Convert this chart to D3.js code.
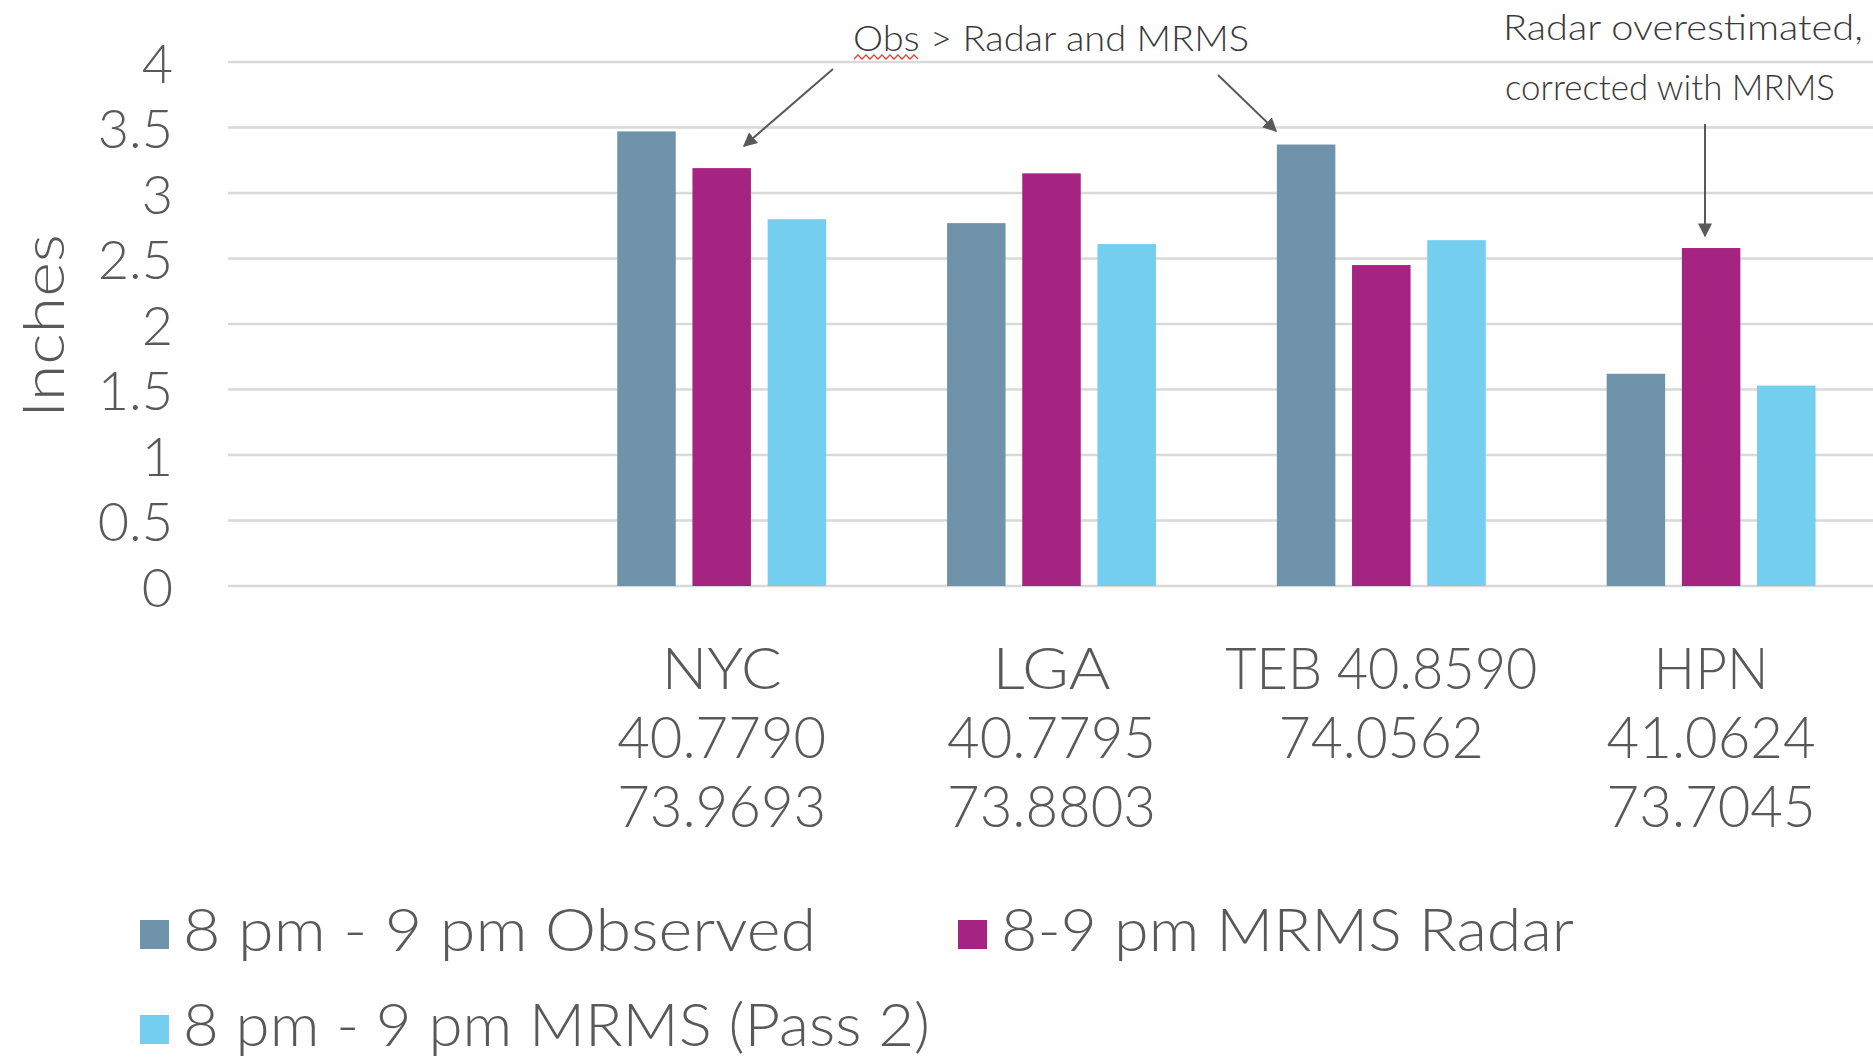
<!DOCTYPE html>
<html>
<head>
<meta charset="utf-8">
<script src="https://cdn.jsdelivr.net/npm/d3@7"></script>
<style>
  html, body { margin: 0; padding: 0; background: #ffffff; }
  svg { display: block; }
  text { font-family: "Lato", "Noto Sans", sans-serif; font-weight: 300; }
</style>
</head>
<body>
<script>
// Hourly rainfall (8-9 pm) at four stations: observed gauge vs. MRMS estimates
const categories = ["", "NYC", "LGA", "TEB", "HPN"];
const categoryLabels = [
  [],
  ["NYC", "40.7790", "73.9693"],
  ["LGA", "40.7795", "73.8803"],
  ["TEB 40.8590", "74.0562"],
  ["HPN", "41.0624", "73.7045"]
];
const seriesNames = ["8 pm - 9 pm Observed", "8-9 pm MRMS Radar", "8 pm - 9 pm MRMS (Pass 2)"];
const observed  = [null, 3.47, 2.77, 3.37, 1.62];
const mrmsRadar = [null, 3.19, 3.15, 2.45, 2.58];
const mrmsPass2 = [null, 2.80, 2.61, 2.64, 1.53];
const yTicks = [0, 0.5, 1, 1.5, 2, 2.5, 3, 3.5, 4];
const yTickLabels = ["0", "0.5", "1", "1.5", "2", "2.5", "3", "3.5", "4"];
const seriesColors = ["#7093ac", "#a52381", "#74cef0"];

const W = 1873, H = 1061;
const svg = d3.select("body").append("svg").attr("width", W).attr("height", H);

const x = d3.scaleBand().domain(categories).range([227, 1876]).paddingInner(0).paddingOuter(0);
const xs = d3.scaleBand().domain(seriesNames).range([0, x.bandwidth()])
  .paddingInner(0.222).paddingOuter(0.804);
const y = d3.scaleLinear().domain([0, 4]).range([586, 62]);

const fit = (sel, w) => sel.attr("textLength", w).attr("lengthAdjust", "spacingAndGlyphs");

// horizontal gridlines
svg.append("g").selectAll("line").data(yTicks).join("line")
  .attr("x1", 228).attr("x2", W)
  .attr("y1", d => y(d)).attr("y2", d => y(d))
  .attr("stroke", "#d9d9d9").attr("stroke-width", 2.5);

// y tick labels
svg.append("g").selectAll("text").data(yTicks).join("text")
  .attr("x", 173).attr("y", d => y(d))
  .attr("text-anchor", "end").attr("dominant-baseline", "central")
  .attr("font-size", 54).attr("fill", "#595959")
  .text((d, i) => yTickLabels[i]);

// y axis title
svg.append("text")
  .attr("transform", "translate(64,326) rotate(-90)")
  .attr("text-anchor", "middle")
  .attr("font-size", 58).attr("fill", "#595959")
  .call(fit, 184)
  .text("Inches");

// bars
const seriesValues = [observed, mrmsRadar, mrmsPass2];
const rows = [];
categories.forEach((c, i) => {
  seriesNames.forEach((s, j) => {
    const v = seriesValues[j][i];
    if (v != null) rows.push({ c, s, v, j });
  });
});
svg.append("g").selectAll("rect").data(rows).join("rect")
  .attr("x", d => x(d.c) + xs(d.s))
  .attr("width", xs.bandwidth())
  .attr("y", d => y(d.v))
  .attr("height", d => y(0) - y(d.v))
  .attr("fill", d => seriesColors[d.j]);

// category labels (station name + coordinates)
const catWidths = {
  "NYC": 120, "LGA": 118, "HPN": 115, "TEB 40.8590": 312, "74.0562": 205
};
const catG = svg.append("g");
categories.forEach((c, i) => {
  categoryLabels[i].forEach((line, k) => {
    const w = catWidths[line] || 209;
    catG.append("text")
      .attr("x", x(c) + x.bandwidth() / 2)
      .attr("y", 689 + k * 69)
      .attr("text-anchor", "middle")
      .attr("font-size", 58).attr("fill", "#595959")
      .call(fit, w)
      .text(line);
  });
});

// legend
const legendItems = [
  { name: seriesNames[0], color: seriesColors[0], sx: 140, tx: 183, base: 951, w: 633 },
  { name: seriesNames[1], color: seriesColors[1], sx: 958, tx: 1001, base: 951, w: 573 },
  { name: seriesNames[2], color: seriesColors[2], sx: 140, tx: 183, base: 1046, w: 747 }
];
const lg = svg.append("g");
legendItems.forEach(d => {
  lg.append("rect").attr("x", d.sx).attr("y", d.base - 31).attr("width", 29).attr("height", 29)
    .attr("fill", d.color);
  lg.append("text").attr("x", d.tx).attr("y", d.base)
    .attr("font-size", 60).attr("fill", "#595959")
    .call(fit, d.w)
    .text(d.name);
});

// annotations
const defs = svg.append("defs");
defs.append("marker").attr("id", "head").attr("viewBox", "0 0 10 10")
  .attr("refX", 9).attr("refY", 5).attr("markerWidth", 7).attr("markerHeight", 7)
  .attr("markerUnits", "strokeWidth").attr("orient", "auto")
  .append("path").attr("d", "M0,0 L10,5 L0,10 Z").attr("fill", "#595959");

const ann = svg.append("g").attr("fill", "#3a3a3a");
ann.append("text").attr("x", 1051).attr("y", 51).attr("text-anchor", "middle")
  .attr("font-size", 36).call(fit, 396).text("Obs > Radar and MRMS");
// spell-check squiggle under "Obs"
const squig = d3.range(0, 17).map(k => [854 + k * 4, 57 + (k % 2 ? -2 : 2)]);
ann.append("path").attr("d", d3.line()(squig)).attr("fill", "none")
  .attr("stroke", "#e0403a").attr("stroke-width", 1.3);

ann.append("text").attr("x", 1683).attr("y", 40).attr("text-anchor", "middle")
  .attr("font-size", 35).call(fit, 360).text("Radar overestimated,");
ann.append("text").attr("x", 1670).attr("y", 100).attr("text-anchor", "middle")
  .attr("font-size", 35).call(fit, 330).text("corrected with MRMS");

const arrows = [
  [[833, 69], [744, 146]],
  [[1218, 75], [1276, 131]],
  [[1705, 124], [1705, 236]]
];
svg.append("g").selectAll("line").data(arrows).join("line")
  .attr("x1", d => d[0][0]).attr("y1", d => d[0][1])
  .attr("x2", d => d[1][0]).attr("y2", d => d[1][1])
  .attr("stroke", "#595959").attr("stroke-width", 2)
  .attr("marker-end", "url(#head)");
</script>
</body>
</html>
